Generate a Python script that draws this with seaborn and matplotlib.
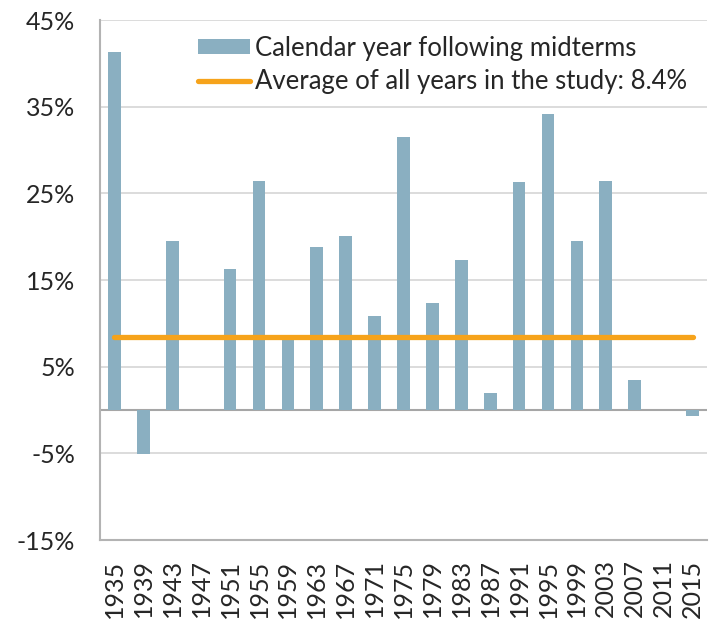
import pandas as pd
import matplotlib.pyplot as plt
import seaborn as sns
from matplotlib.patches import Patch
from matplotlib.lines import Line2D

years = ["1935", "1939", "1943", "1947", "1951", "1955", "1959", "1963", "1967", "1971", "1975",
         "1979", "1983", "1987", "1991", "1995", "1999", "2003", "2007", "2011", "2015"]
returns = [41.3, -5.1, 19.5, 0.0, 16.3, 26.4, 8.3, 18.8, 20.1, 10.8, 31.5,
           12.3, 17.3, 2.0, 26.3, 34.1, 19.5, 26.4, 3.5, 0.0, -0.7]
average = 8.4
y_ticks = [-15, -5, 5, 15, 25, 35, 45]

bar_color = "#8aafc1"
line_color = "#f6a31b"

df = pd.DataFrame({"Year": years, "Return": returns})
df["Average"] = average

sns.set_style("white")
plt.rcParams['font.family'] = ['Lato', 'DejaVu Sans']

fig = plt.figure(figsize=(7.16, 6.2), dpi=100)
ax = fig.add_axes([0.1397, 0.129, 0.8477, 0.8387])

for t in y_ticks:
    ax.axhline(t, color="#d9d9d9", lw=1.3, zorder=0)
ax.axhline(0, color="#a6a6a6", lw=1.5, zorder=1)

sns.barplot(data=df, x="Year", y="Return", color=bar_color, width=0.44,
            linewidth=0, saturation=1, ax=ax, zorder=2)
sns.lineplot(data=df, x="Year", y="Average", color=line_color, lw=3.8,
             solid_capstyle="round", ax=ax, zorder=3)

ax.set_xlim(-0.5, len(years) - 0.5)
ax.set_ylim(-15, 45)
ax.set_yticks(y_ticks)
ax.set_yticklabels([f"{t}%" for t in y_ticks])
ax.set_xlabel("")
ax.set_ylabel("")
ax.tick_params(axis="y", length=0, pad=18, labelsize=18)
ax.tick_params(axis="x", length=0, pad=14, labelsize=18, rotation=90)

for side in ["top", "right"]:
    ax.spines[side].set_visible(False)
for side in ["left", "bottom"]:
    ax.spines[side].set_color("#b3b3b3")
    ax.spines[side].set_linewidth(1.5)

handles = [Patch(facecolor=bar_color, edgecolor="none"),
           Line2D([0], [0], color=line_color, lw=3.8, solid_capstyle="round")]
labels = ["Calendar year following midterms",
          f"Average of all years in the study: {average}%"]
ax.legend(handles, labels, loc="upper left", bbox_to_anchor=(0.145, 0.99),
          frameon=False, fontsize=18.5, handlelength=2.0, handleheight=0.55,
          handletextpad=0.2, labelspacing=0.35, borderaxespad=0)

fig.savefig("out.png", dpi=100)
